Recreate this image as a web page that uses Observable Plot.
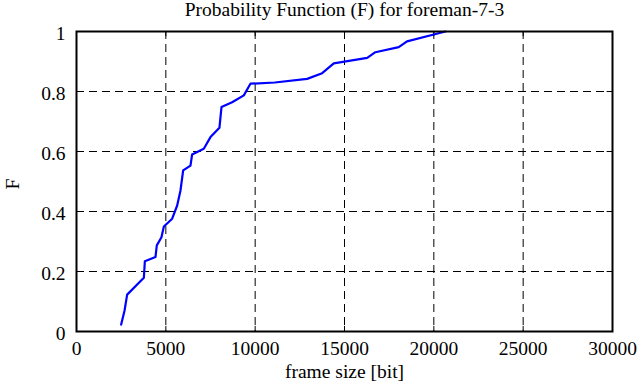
<!DOCTYPE html>
<html><head><meta charset="utf-8">
<script src="https://cdn.jsdelivr.net/npm/d3@7"></script>
<script src="https://cdn.jsdelivr.net/npm/@observablehq/plot@0.6"></script>
<style>body{margin:0;background:#fff}svg, svg text{font-family:"Liberation Serif",serif !important}</style>
</head><body><div id="chart"></div>
<script>
const frameSize = [2500,2690,2835,3770,3825,4420,4495,4755,4890,5355,5635,5820,5970,6380,6470,7125,7500,8000,8115,8710,9365,9735,11100,12910,13750,14400,16270,16730,18035,18500,20000,20650];
const probF = [0.023,0.07,0.123,0.179,0.234,0.248,0.287,0.314,0.35,0.376,0.42,0.47,0.537,0.553,0.59,0.609,0.648,0.679,0.748,0.764,0.787,0.826,0.83,0.842,0.861,0.894,0.912,0.931,0.948,0.967,0.99,1.0];
const xTicks = [0,5000,10000,15000,20000,25000,30000];
const yTicks = [0,0.2,0.4,0.6,0.8,1];
const gridX = [5000,10000,15000,20000,25000];
const gridY = [0.2,0.4,0.6,0.8];
const title = "Probability Function (F) for foreman-7-3";
const data = frameSize.map((x,i)=>({x, y: probF[i]}));
const FF = "Liberation Serif";

const chart = Plot.plot({
  width: 639, height: 387,
  marginLeft: 76, marginRight: 27, marginTop: 31, marginBottom: 56,
  style: {fontSize: "19.5px", fontFamily: FF, color: "#000"},
  x: {domain: [0,30000], ticks: xTicks, tickFormat: d=>String(d)},
  y: {domain: [0,1], ticks: yTicks, tickFormat: d=>String(d)},
  marks: [
    Plot.ruleX(gridX, {stroke: "#000", strokeWidth: 1, strokeDasharray: "8,5", strokeOpacity: 1}),
    Plot.ruleY(gridY, {stroke: "#000", strokeWidth: 1, strokeDasharray: "8,5", strokeOpacity: 1}),
    Plot.ruleX(xTicks, {y1: 0, y2: 0.017, stroke: "#000"}),
    Plot.ruleX(xTicks, {y1: 0.983, y2: 1, stroke: "#000"}),
    Plot.ruleY(yTicks, {x1: 0, x2: 300, stroke: "#000"}),
    Plot.ruleY(yTicks, {x1: 29700, x2: 30000, stroke: "#000"}),
    Plot.axisX({ticks: xTicks, tickSize: 0, tickPadding: 10, tickFormat: d=>String(d), label: null, fontSize: 19.5, fontFamily: FF}),
    Plot.axisY({ticks: yTicks, tickSize: 0, tickPadding: 11, dy: 2, tickFormat: d=>String(d), label: null, fontSize: 19.5, fontFamily: FF}),
    Plot.line(data, {x: "x", y: "y", stroke: "#0000ff", strokeWidth: 2.2}),
    Plot.frame({stroke: "#000", strokeWidth: 2}),
    Plot.text([title], {frameAnchor: "top", lineAnchor: "top", dy: -29, text: d=>d, fontSize: 19.5, fontFamily: FF}),
    Plot.text(["frame size [bit]"], {frameAnchor: "bottom", dy: 46, text: d=>d, fontSize: 19.5, fontFamily: FF}),
    Plot.text(["F"], {frameAnchor: "left", dx: -64, dy: 8, rotate: -90, text: d=>d, fontSize: 19.5, fontFamily: FF})
  ]
});
document.getElementById("chart").append(chart);
</script></body></html>
